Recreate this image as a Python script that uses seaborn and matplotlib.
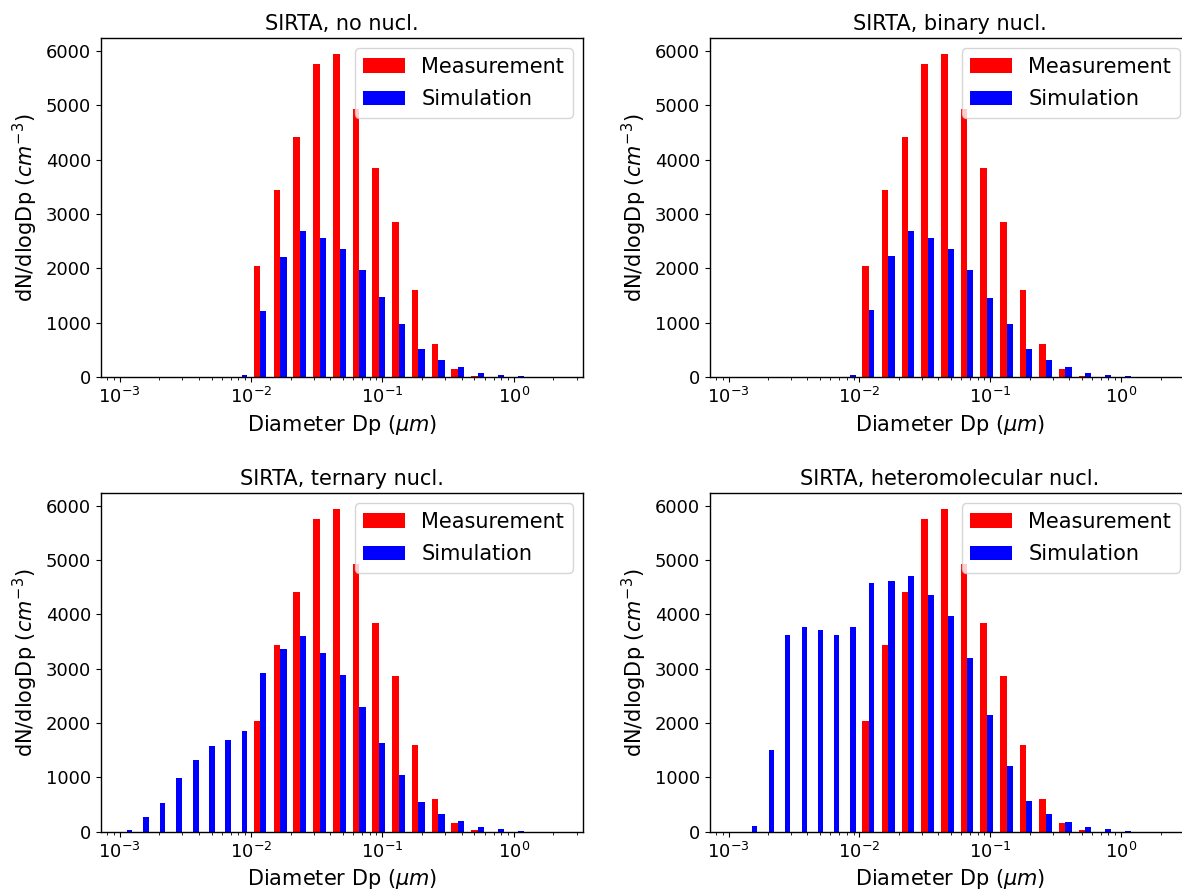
import numpy as np
import seaborn as sns
import matplotlib.pyplot as plt

# measured size bins (um) and SIRTA dN/dlogDp (cm-3)
meas_dp = [0.01172, 0.01663, 0.0235, 0.03334, 0.0471, 0.06653, 0.09376,
           0.1334, 0.1879, 0.2655, 0.375, 0.5297]
meas_vals = [2045, 3433, 4420, 5752, 5942, 4931, 3844, 2858, 1596, 606, 159, 25]

# model size sections (um)
sim_dp = [0.001143, 0.001514, 0.002028, 0.002698, 0.003639, 0.004819,
          0.006383, 0.008531, 0.01172, 0.01663, 0.0235, 0.03334, 0.0471,
          0.06653, 0.09376, 0.1334, 0.1879, 0.2655, 0.375, 0.5297, 0.7516, 1.067]

sim_none = [0, 0, 0, 0, 0, 0, 0, 37, 1212, 2217, 2688, 2566, 2358, 1978,
            1476, 974, 520, 312, 190, 86, 37, 18]
sim_binary = [0, 0, 0, 0, 0, 0, 0, 37, 1231, 2235, 2688, 2566, 2358, 1978,
              1457, 974, 520, 312, 190, 86, 37, 18]
sim_ternary = [37, 276, 527, 993, 1317, 1581, 1685, 1857, 2917, 3358, 3603,
               3297, 2880, 2304, 1630, 1042, 545, 319, 190, 86, 43, 18]
sim_hetero = [0, 98, 1513, 3615, 3762, 3707, 3615, 3762, 4571, 4608, 4712,
              4363, 3964, 3205, 2145, 1213, 558, 319, 178, 86, 43, 18]

titles = ["SIRTA, no nucl.", "SIRTA, binary nucl.",
          "SIRTA, ternary nucl.", "SIRTA, heteromolecular nucl."]
sims = [sim_none, sim_binary, sim_ternary, sim_hetero]

sns.set_theme(style="ticks", rc={
    "axes.edgecolor": "black", "axes.linewidth": 1.0,
    "xtick.color": "black", "ytick.color": "black", "text.color": "black",
    "axes.labelcolor": "black",
    "xtick.major.size": 3.5, "ytick.major.size": 3.5,
    "xtick.minor.size": 2, "ytick.minor.size": 2,
    "xtick.major.width": 0.8, "ytick.major.width": 0.8,
    "xtick.minor.width": 0.6,
})
plt.rcParams["font.family"] = ["DejaVu Sans"]
plt.rcParams["mathtext.fontset"] = "dejavusans"


def log_widths(dp, frac):
    logd = np.log10(dp)
    step = np.diff(logd, prepend=logd[0] - (logd[1] - logd[0]))
    return frac * step


fig = plt.figure(figsize=(11.82, 8.89), dpi=100)
W, H = 1182, 889
boxes = [(101, 38, 482, 339.3), (710, 38, 480, 339.3),
         (101, 493, 482, 338.7), (710, 493, 480, 338.7)]

md = np.array(meas_dp)
sd = np.array(sim_dp)
mw = log_widths(md, 0.33)
sw = log_widths(sd, 0.32)

for (x0, y0, w, h), title, sim in zip(boxes, titles, sims):
    ax = fig.add_axes([x0 / W, 1 - (y0 + h) / H, w / W, h / H])
    ax.bar(md, meas_vals, width=-md * (1 - 10 ** -mw), align="edge",
           color="red", linewidth=0, label="Measurement")
    ax.bar(sd, sim, width=sd * (10 ** sw - 1), align="edge",
           color="blue", linewidth=0, label="Simulation")
    ax.set_xscale("log")
    ax.set_xlim(7.2e-4, 3.36)
    ax.set_ylim(0, 6235)
    ax.set_yticks([0, 1000, 2000, 3000, 4000, 5000, 6000])
    ax.tick_params(labelsize=13)
    ax.set_title(title, fontsize=15)
    ax.set_xlabel(r"Diameter Dp ($\mu m$)", fontsize=15)
    ax.set_ylabel(r"dN/dlogDp ($cm^{-3}$)", fontsize=15)
    ax.legend(loc="upper right", fontsize=15, frameon=True, framealpha=0.8,
              edgecolor="0.8", fancybox=True, labelspacing=0.6)

fig.savefig("out.png", dpi=100)
